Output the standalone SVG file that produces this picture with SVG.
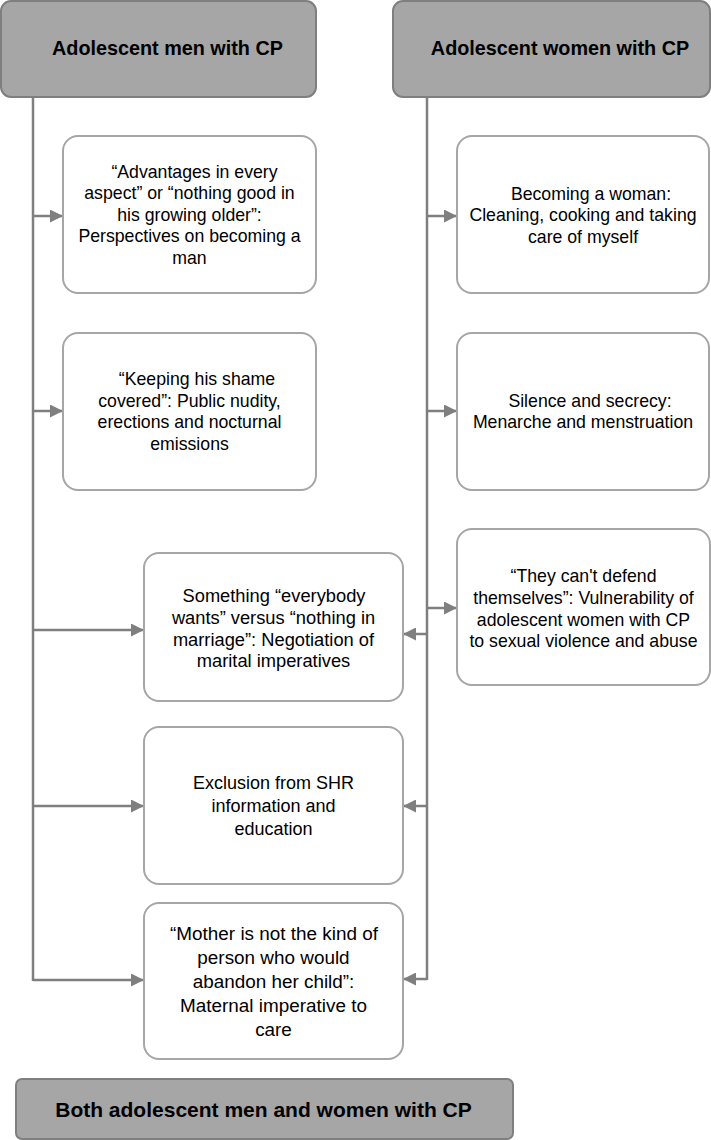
<svg xmlns="http://www.w3.org/2000/svg" width="711" height="1140" viewBox="0 0 711 1140">
<style>
.hdr{fill:#a6a6a6;stroke:#7f7f7f;stroke-width:2}
.box{fill:#ffffff;stroke:#a6a6a6;stroke-width:2}
.ht{font-family:"Liberation Sans",Arial,sans-serif;font-weight:bold;font-size:19.8px;fill:#000;text-anchor:middle}
.bt{font-family:"Liberation Sans",Arial,sans-serif;font-size:17.7px;fill:#000;text-anchor:middle}
.con{stroke:#7f7f7f;stroke-width:2.5;fill:none}
</style>
<defs>
<marker id="ah" markerUnits="userSpaceOnUse" markerWidth="13" markerHeight="13" viewBox="0 0 12 12" refX="12" refY="6" orient="auto">
<path d="M0,0 L12,6 L0,12 Z" fill="#7f7f7f"/>
</marker>
</defs>
<g id="connectors">
<line class="con" x1="33" y1="97" x2="33" y2="981"/>
<line class="con" x1="427" y1="97" x2="427" y2="980"/>
<line class="con" x1="33" y1="216" x2="63" y2="216" marker-end="url(#ah)"/>
<line class="con" x1="33" y1="411" x2="63" y2="411" marker-end="url(#ah)"/>
<line class="con" x1="33" y1="630" x2="144" y2="630" marker-end="url(#ah)"/>
<line class="con" x1="33" y1="806" x2="144" y2="806" marker-end="url(#ah)"/>
<line class="con" x1="33" y1="980" x2="144" y2="980" marker-end="url(#ah)"/>
<line class="con" x1="427" y1="216" x2="457" y2="216" marker-end="url(#ah)"/>
<line class="con" x1="427" y1="411" x2="457" y2="411" marker-end="url(#ah)"/>
<line class="con" x1="427" y1="608" x2="457" y2="608" marker-end="url(#ah)"/>
<line class="con" x1="427" y1="634" x2="403" y2="634" marker-end="url(#ah)"/>
<line class="con" x1="427" y1="806" x2="403" y2="806" marker-end="url(#ah)"/>
<line class="con" x1="427" y1="979" x2="403" y2="979" marker-end="url(#ah)"/>
</g>
<g id="hdr-men">
<rect class="hdr" x="1" y="1" width="315" height="96" rx="10"/>
<text class="ht" x="167.5" y="55">Adolescent men with CP</text>
</g>
<g id="hdr-women">
<rect class="hdr" x="393" y="1" width="317" height="96" rx="10"/>
<text class="ht" x="560" y="55">Adolescent women with CP</text>
</g>
<g id="m1">
<rect class="box" x="63" y="136" width="253" height="157" rx="15"/>
<text class="bt"><tspan x="194.5" y="177.5">“Advantages in every</tspan><tspan x="189.5" y="199">aspect” or “nothing good in</tspan><tspan x="189.5" y="220.5">his growing older”:</tspan><tspan x="189.5" y="242">Perspectives on becoming a</tspan><tspan x="189.5" y="263.5">man</tspan></text>
</g>
<g id="m2">
<rect class="box" x="63" y="333" width="253" height="157" rx="15"/>
<text class="bt"><tspan x="197" y="385">“Keeping his shame</tspan><tspan x="189.5" y="406.5">covered”: Public nudity,</tspan><tspan x="189.5" y="428">erections and nocturnal</tspan><tspan x="189.5" y="449.5">emissions</tspan></text>
</g>
<g id="w1">
<rect class="box" x="457" y="136" width="252" height="157" rx="15"/>
<text class="bt"><tspan x="591" y="199.5">Becoming a woman:</tspan><tspan x="583" y="221">Cleaning, cooking and taking</tspan><tspan x="583" y="242.5">care of myself</tspan></text>
</g>
<g id="w2">
<rect class="box" x="457" y="333" width="252" height="157" rx="15"/>
<text class="bt"><tspan x="590" y="406.5">Silence and secrecy:</tspan><tspan x="583" y="428">Menarche and menstruation</tspan></text>
</g>
<g id="w3">
<rect class="box" x="457" y="529" width="253" height="156" rx="15"/>
<text class="bt"><tspan x="583.5" y="582">“They can't defend</tspan><tspan x="583.5" y="604">themselves”: Vulnerability of</tspan><tspan x="583.5" y="625.5">adolescent women with CP</tspan><tspan x="583.5" y="647">to sexual violence and abuse</tspan></text>
</g>
<g id="b1">
<rect class="box" x="144" y="553" width="259" height="148" rx="15"/>
<text class="bt" style="font-size:18.3px"><tspan x="274" y="602">Something “everybody</tspan><tspan x="273.5" y="624">wants” versus “nothing in</tspan><tspan x="273.5" y="645.5">marriage”: Negotiation of</tspan><tspan x="273.5" y="667">marital imperatives</tspan></text>
</g>
<g id="b2">
<rect class="box" x="144" y="727" width="259" height="157" rx="15"/>
<text class="bt" style="font-size:18px"><tspan x="273.5" y="788.5">Exclusion from SHR</tspan><tspan x="273.5" y="811.5">information and</tspan><tspan x="273.5" y="834.5">education</tspan></text>
</g>
<g id="b3">
<rect class="box" x="144" y="903" width="259" height="156" rx="15"/>
<text class="bt" style="font-size:18.9px"><tspan x="274" y="940">“Mother is not the kind of</tspan><tspan x="273.5" y="964">person who would</tspan><tspan x="273.5" y="988">abandon her child”:</tspan><tspan x="273.5" y="1012">Maternal imperative to</tspan><tspan x="273.5" y="1036">care</tspan></text>
</g>
<g id="hdr-both">
<rect class="hdr" x="16" y="1079" width="497" height="60" rx="6"/>
<text class="ht" x="263.5" y="1117" style="font-size:21px">Both adolescent men and women with CP</text>
</g>
</svg>
